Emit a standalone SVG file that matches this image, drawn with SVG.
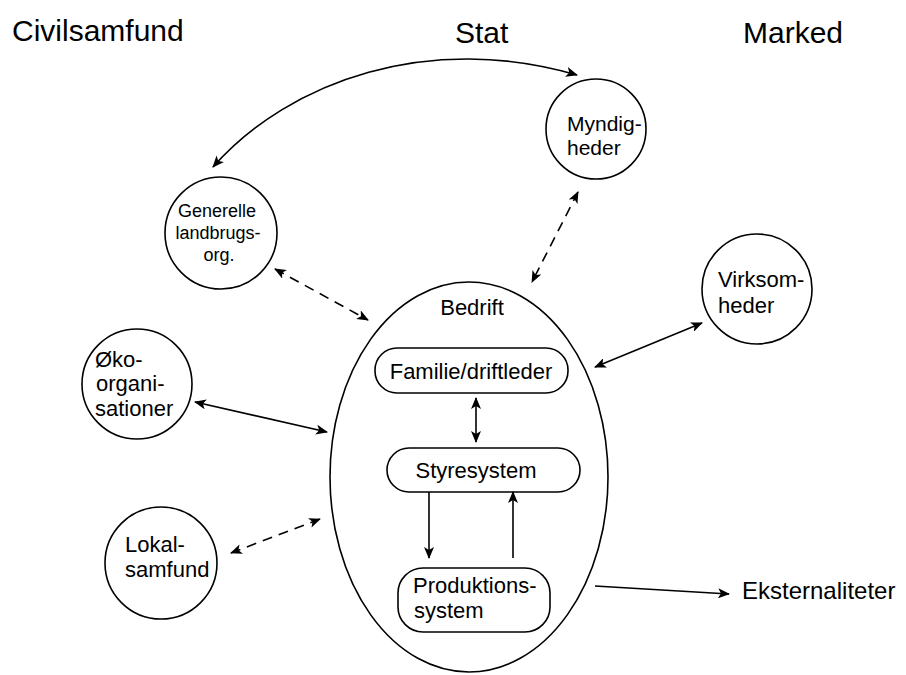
<svg xmlns="http://www.w3.org/2000/svg" width="906" height="675" viewBox="0 0 906 675">
<style>
text{font-family:"Liberation Sans",Arial,sans-serif;fill:#000}
.h{font-size:30px}
.t{font-size:22px}
.s{font-size:18px}
.n{fill:none;stroke:#000;stroke-width:1.6}
.c{fill:none;stroke:#000;stroke-width:1.6}
.d{stroke-dasharray:10 7}
</style>
<defs>
<marker id="ah" viewBox="0 0 12 10" refX="11" refY="5" markerWidth="12" markerHeight="10" markerUnits="userSpaceOnUse" orient="auto-start-reverse">
<path d="M0,0 L12,5 L0,10 L3,5 Z" fill="#000"/>
</marker>
</defs>
<rect width="906" height="675" fill="#fff"/>
<g id="headings">
<text class="h" x="12" y="41">Civilsamfund</text>
<text class="h" x="455" y="43">Stat</text>
<text class="h" x="743" y="43">Marked</text>
</g>
<g id="bedrift">
<ellipse class="n" cx="469" cy="477" rx="139" ry="195"/>
<text class="t" x="472" y="315" text-anchor="middle">Bedrift</text>
</g>
<g id="familie">
<rect class="n" x="375" y="348" width="193" height="45" rx="22"/>
<text class="t" x="471" y="379" text-anchor="middle">Familie/driftleder</text>
</g>
<g id="styresystem">
<rect class="n" x="387" y="448" width="193" height="44" rx="22"/>
<text class="t" x="476" y="478" text-anchor="middle">Styresystem</text>
</g>
<g id="produktionssystem">
<rect class="n" x="398" y="568" width="152" height="64" rx="25"/>
<text class="t" x="413" y="593">Produktions-</text>
<text class="t" x="414" y="618">system</text>
</g>
<g id="myndigheder">
<circle class="n" cx="596" cy="129" r="50"/>
<text class="t" style="font-size:21px" x="567" y="131">Myndig-</text>
<text class="t" style="font-size:21px" x="567" y="155">heder</text>
</g>
<g id="generelle">
<circle class="n" cx="221" cy="233" r="56"/>
<text class="s" x="217" y="217" text-anchor="middle">Generelle</text>
<text class="s" x="218" y="239" text-anchor="middle">landbrugs-</text>
<text class="s" x="219" y="261" text-anchor="middle">org.</text>
</g>
<g id="virksomheder">
<circle class="n" cx="757" cy="289" r="55"/>
<text class="t" x="718" y="287">Virksom-</text>
<text class="t" x="718" y="313">heder</text>
</g>
<g id="oeko">
<circle class="n" cx="137" cy="384" r="55"/>
<text class="t" x="95" y="367">Øko-</text>
<text class="t" x="96" y="391">organi-</text>
<text class="t" x="95" y="416">sationer</text>
</g>
<g id="lokalsamfund">
<circle class="n" cx="161" cy="563" r="56"/>
<text class="t" x="125" y="552">Lokal-</text>
<text class="t" x="125" y="577">samfund</text>
</g>
<g id="eksternaliteter">
<text class="h" style="font-size:24px" x="742" y="599">Eksternaliteter</text>
</g>
<g id="connectors">
<path class="c" d="M213,167 C290,80 430,32 577,75" marker-start="url(#ah)" marker-end="url(#ah)"/>
<line class="c d" x1="275" y1="269" x2="368" y2="320" marker-start="url(#ah)" marker-end="url(#ah)"/>
<line class="c d" x1="578" y1="192" x2="532" y2="282" marker-start="url(#ah)" marker-end="url(#ah)"/>
<line class="c" x1="702" y1="323" x2="595" y2="367" marker-start="url(#ah)" marker-end="url(#ah)"/>
<line class="c" x1="195" y1="402" x2="327" y2="432" marker-start="url(#ah)" marker-end="url(#ah)"/>
<line class="c d" x1="231" y1="553" x2="320" y2="519" marker-start="url(#ah)" marker-end="url(#ah)"/>
<line class="c" x1="476" y1="398" x2="476" y2="442" marker-start="url(#ah)" marker-end="url(#ah)"/>
<line class="c" x1="429" y1="492" x2="429" y2="558" marker-end="url(#ah)"/>
<line class="c" x1="513" y1="558" x2="513" y2="492" marker-end="url(#ah)"/>
<line class="c" x1="595" y1="586" x2="729" y2="594" marker-end="url(#ah)"/>
</g>
</svg>
